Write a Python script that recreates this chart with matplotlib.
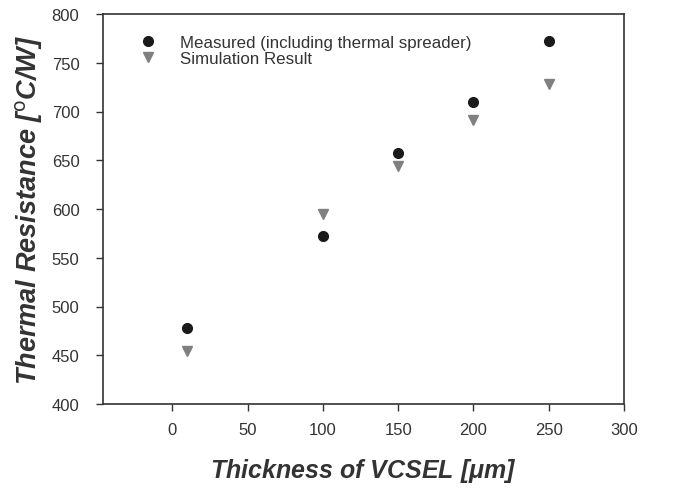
import matplotlib.pyplot as plt

plt.rcParams['font.family'] = ['Liberation Sans', 'DejaVu Sans']
plt.rcParams['mathtext.fontset'] = 'custom'
plt.rcParams['mathtext.it'] = 'Liberation Sans:italic:bold'
plt.rcParams['mathtext.rm'] = 'Liberation Sans:italic:bold'

thickness = [10, 100, 150, 200, 250]
measured = [478, 572, 657, 710, 772]
simulated = [454, 595, 644, 691, 728]

fig = plt.figure(figsize=(6.88, 4.89), dpi=100)
ax = fig.add_axes([103 / 688, 84 / 489, 521 / 688, 390 / 489])

ax.plot(thickness, measured, 'o', color='#1a1a1a', markersize=7,
        label='Measured (including thermal spreader)')
ax.plot(thickness, simulated, 'v', color='#808080', markersize=7,
        label='Simulation Result')

ax.set_xlim(-46, 300)
ax.set_ylim(400, 800)
ax.set_xticks(range(0, 301, 50))
ax.set_yticks(range(400, 801, 50))
ax.tick_params(direction='out', length=5, width=1, labelsize=12,
               colors='#333333', top=False, right=False)
ax.tick_params(axis='x', pad=8)
ax.tick_params(axis='y', pad=12)
for s in ax.spines.values():
    s.set_color('#333333')
    s.set_linewidth(1.2)

ax.set_xlabel('Thickness of VCSEL [$\\mu$m]', fontsize=18, fontweight='bold',
              style='italic', color='#333333', labelpad=14)
ax.set_ylabel('Thermal Resistance [$^{\\mathsf{o}}$C/W]', fontsize=19.5,
              fontweight='bold', style='italic', color='#333333', labelpad=5)

ax.legend(loc='upper left', bbox_to_anchor=(0.053, 0.968), frameon=False,
          fontsize=12.2, handletextpad=1.4, labelspacing=0.05, borderpad=0,
          handlelength=1.0, labelcolor='#333333')

fig.savefig('out.png', dpi=100)
